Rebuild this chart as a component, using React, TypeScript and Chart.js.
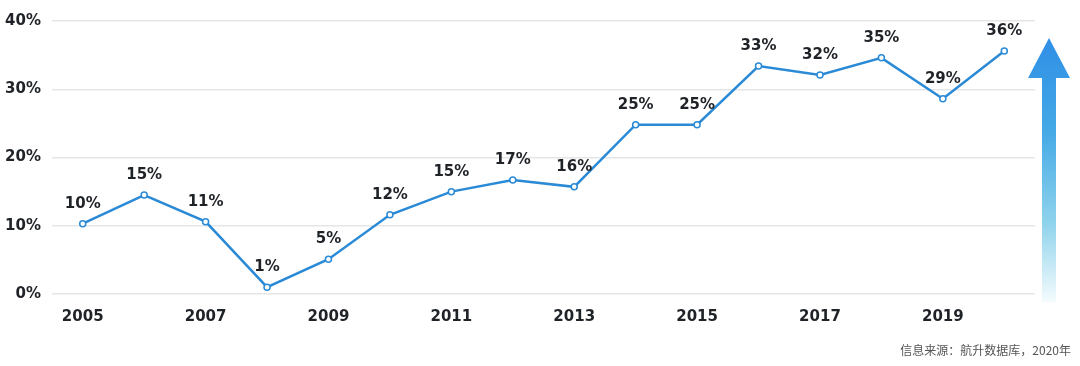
import React, { useEffect, useRef } from "react";
import { Chart, registerables } from "chart.js";

Chart.register(...registerables);

const years = ["2005","2006","2007","2008","2009","2010","2011","2012","2013","2014","2015","2016","2017","2018","2019","2020"];
const shares = [10.3, 14.5, 10.6, 1.0, 5.1, 11.6, 15.0, 16.7, 15.7, 24.8, 24.8, 33.4, 32.1, 34.6, 28.6, 35.6];
const shareLabels = ["10%","15%","11%","1%","5%","12%","15%","17%","16%","25%","25%","33%","32%","35%","29%","36%"];
const yTicks = [0, 10, 20, 30, 40];
const sourceText = "信息来源：航升数据库，2020年";

const FONT = "'DejaVu Sans', 'Noto Sans', sans-serif";

const labelPlugin = {
  id: "pointLabels",
  afterDatasetsDraw(chart: any) {
    const ctx = chart.ctx;
    const meta = chart.getDatasetMeta(0);
    ctx.save();
    ctx.font = `700 15px ${FONT}`;
    ctx.fillStyle = "#1f2328";
    ctx.textAlign = "center";
    ctx.textBaseline = "middle";
    meta.data.forEach((pt: any, i: number) => {
      ctx.fillText(shareLabels[i], pt.x, pt.y - 20);
    });
    ctx.restore();
  },
};

const decoPlugin = {
  id: "deco",
  afterDraw(chart: any) {
    const ctx = chart.ctx;
    ctx.save();
    const cx = 1049, top = 38, headBottom = 78, bottom = 302, shaftHalf = 7, headHalf = 21;
    const g = ctx.createLinearGradient(0, top, 0, bottom);
    g.addColorStop(0, "#2f8fe6");
    g.addColorStop(0.35, "#44a9e6");
    g.addColorStop(0.7, "#8fd3ec");
    g.addColorStop(1, "#f4fbfd");
    ctx.fillStyle = g;
    ctx.beginPath();
    ctx.moveTo(cx, top);
    ctx.lineTo(cx + headHalf, headBottom);
    ctx.lineTo(cx + shaftHalf, headBottom);
    ctx.lineTo(cx + shaftHalf, bottom);
    ctx.lineTo(cx - shaftHalf, bottom);
    ctx.lineTo(cx - shaftHalf, headBottom);
    ctx.lineTo(cx - headHalf, headBottom);
    ctx.closePath();
    ctx.fill();
    ctx.font = `12px 'Noto Sans CJK SC', sans-serif`;
    ctx.fillStyle = "#555";
    ctx.textAlign = "right";
    ctx.textBaseline = "middle";
    ctx.fillText(sourceText, 1071, 350);
    ctx.restore();
  },
};

export default function App() {
  const ref = useRef<HTMLCanvasElement>(null);
  useEffect(() => {
    if (!ref.current) return;
    const chart = new Chart(ref.current, {
      type: "line",
      data: {
        labels: years,
        datasets: [
          {
            data: shares,
            borderColor: "#2b8ad6",
            borderWidth: 2.5,
            pointBackgroundColor: "#ffffff",
            pointBorderColor: "#2b8ad6",
            pointBorderWidth: 1.5,
            pointRadius: 3,
            tension: 0,
          },
        ],
      },
      options: {
        responsive: false,
        animation: false,
        layout: { padding: { top: 21, right: 45, left: 0, bottom: 0 } },
        plugins: { legend: { display: false }, tooltip: { enabled: false } },
        scales: {
          x: {
            offset: true,
            grid: { display: false, drawTicks: false },
            border: { display: false },
            afterFit: (s: any) => { s.height = 72; },
            ticks: {
              autoSkip: false,
              maxRotation: 0,
              padding: 14,
              color: "#1f2328",
              font: { family: FONT, size: 15, weight: "bold" },
              callback: (_v: any, i: number) => (i % 2 === 0 ? years[i] : ""),
            },
          },
          y: {
            min: 0,
            max: 40,
            afterBuildTicks: (s: any) => { s.ticks = yTicks.map((v) => ({ value: v })); },
            afterFit: (s: any) => { s.width = 52; },
            grid: { color: "#e4e6e8", lineWidth: 1.5, drawTicks: false },
            border: { display: false },
            ticks: {
              padding: 11,
              color: "#1f2328",
              font: { family: FONT, size: 15, weight: "bold" },
              callback: (v: any) => `${v}%`,
            },
          },
        },
      },
      plugins: [labelPlugin, decoPlugin],
    });
    return () => chart.destroy();
  }, []);
  return (
    <div style={{ position: "fixed", left: 0, top: 0, width: 1080, height: 366, background: "#fff" }}>
      <canvas ref={ref} width={1080} height={366} style={{ display: "block" }} />
    </div>
  );
}
